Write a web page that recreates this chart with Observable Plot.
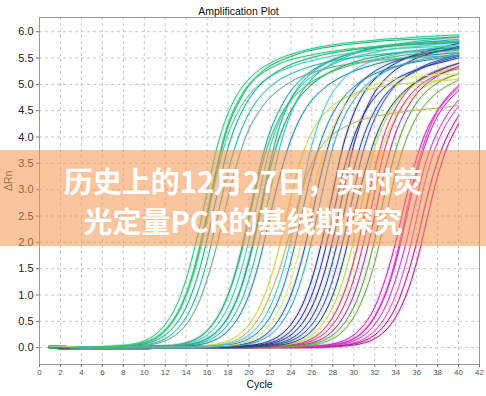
<!DOCTYPE html>
<html><head><meta charset="utf-8">
<script src="https://cdn.jsdelivr.net/npm/d3@7"></script>
<script src="https://cdn.jsdelivr.net/npm/@observablehq/plot@0.6"></script>
<style>
html,body{margin:0;padding:0;background:#fff;}
#wrap{position:relative;width:486px;height:396px;overflow:hidden;background:#fff;}
#banner{position:absolute;left:0;top:150px;width:486px;height:96px;background:rgba(244,150,80,0.55);}
#banner div{position:absolute;left:0;width:486px;text-align:center;color:#fff;font-family:"Noto Sans CJK SC","Noto Sans CJK JP",sans-serif;font-weight:700;font-size:29px;line-height:40px;white-space:nowrap;}
</style></head>
<body>
<div id="wrap"><div id="chart"></div>
<div id="banner"><div style="top:10px">历史上的12月27日，实时荧</div><div style="top:50px">光定量PCR的基线期探究</div></div>
</div>
<script>
const cycles = [1,2,3,4,5,6,7,8,9,10,11,12,13,14,15,16,17,18,19,20,21,22,23,24,25,26,27,28,29,30,31,32,33,34,35,36,37,38,39,40];
const xTicks = [0,2,4,6,8,10,12,14,16,18,20,22,24,26,28,30,32,34,36,38,40,42];
const yTicks = [0,0.5,1,1.5,2,2.5,3,3.5,4,4.5,5,5.5,6];

const groupA = [
 [0.01,0.01,0,0,0, 0.015,0.025,0.04,0.07,0.13, 0.24,0.44,0.77,1.3,2.05, 2.95,3.85,4.45,4.85,5.1, 5.28,5.4,5.5,5.57,5.63, 5.68,5.72,5.75,5.78,5.8, 5.82,5.84,5.86,5.87,5.88, 5.9,5.91,5.92,5.93,5.94],
 [0.01,0.01,0,0,0, 0,0.02,0.03,0.05,0.09, 0.17,0.32,0.58,1.0,1.65, 2.5,3.45,4.2,4.65,4.98, 5.2,5.35,5.45,5.53,5.6, 5.65,5.69,5.72,5.75,5.77, 5.79,5.81,5.83,5.84,5.85, 5.86,5.87,5.88,5.89,5.9],
 [0.01,0.01,0,0,0, 0,0.02,0.03,0.05,0.09, 0.17,0.32,0.58,1.0,1.6, 2.45,3.35,4.05,4.5,4.8, 5.0,5.15,5.25,5.33,5.4, 5.45,5.5,5.54,5.57,5.6, 5.62,5.64,5.66,5.68,5.69, 5.7,5.71,5.72,5.73,5.74],
 [0.01,0.01,0,0,0, 0,0.015,0.025,0.04,0.07, 0.13,0.24,0.44,0.77,1.3, 2.05,2.95,3.8,4.35,4.72, 4.98,5.15,5.28,5.38,5.45, 5.51,5.56,5.6,5.63,5.66, 5.68,5.7,5.72,5.74,5.75, 5.76,5.77,5.78,5.79,5.8],
 [0.01,0.01,0,0,0, 0,0,0.02,0.03,0.05, 0.09,0.17,0.32,0.58,1.0, 1.65,2.5,3.35,4.0,4.45, 4.75,4.95,5.1,5.2,5.28, 5.35,5.4,5.45,5.48,5.51, 5.54,5.56,5.58,5.6,5.61, 5.62,5.63,5.64,5.65,5.66],
 [0.01,0.01,0,0,0, 0,0,0.015,0.025,0.04, 0.07,0.13,0.24,0.44,0.77, 1.3,2.0,2.85,3.6,4.15, 4.5,4.75,4.92,5.05,5.15, 5.22,5.28,5.33,5.37,5.4, 5.43,5.45,5.47,5.49,5.5, 5.51,5.52,5.53,5.54,5.55],
 [0.01,0.01,0,0,0, 0.01,0.02,0.03,0.05,0.1, 0.18,0.34,0.6,1.02,1.68, 2.55,3.5,4.25,4.7,5.0, 5.18,5.3,5.4,5.47,5.52, 5.56,5.6,5.63,5.66,5.68, 5.7,5.72,5.74,5.75,5.76, 5.77,5.78,5.79,5.8,5.82]
];
const colorsA = ["#2fc58c","#22b07a","#47d0a0","#1fa98f","#2bb8a8","#6aa888","#33c46c"];

const groupB = [
 [0.01,0.01,0,0,0, 0,0,0,0.01,0.01, 0.02,0.03,0.05,0.09,0.17, 0.32,0.58,1.0,1.65,2.5, 3.4,4.1,4.55,4.88,5.1, 5.26,5.38,5.47,5.54,5.6, 5.65,5.69,5.72,5.75,5.77, 5.79,5.81,5.82,5.84,5.85],
 [0.01,0.01,0,0,0, 0,0,0,0,0.01, 0.015,0.025,0.04,0.07,0.13, 0.24,0.44,0.77,1.3,2.05, 2.95,3.8,4.35,4.72,4.98, 5.15,5.28,5.38,5.46,5.52, 5.57,5.61,5.65,5.68,5.7, 5.72,5.74,5.76,5.78,5.8],
 [0.01,0.01,0,0,0, 0,0,0,0,0.01, 0.01,0.02,0.03,0.05,0.09, 0.17,0.32,0.58,1.0,1.65, 2.5,3.38,4.05,4.5,4.8, 5.0,5.15,5.26,5.35,5.42, 5.48,5.52,5.56,5.59,5.62, 5.64,5.66,5.68,5.69,5.7],
 [0.01,0.01,0,0,0, 0,0,0,0,0.01, 0.01,0.015,0.025,0.04,0.07, 0.13,0.24,0.44,0.77,1.3, 2.05,2.95,3.85,4.45,4.85, 5.1,5.28,5.4,5.5,5.58, 5.64,5.69,5.73,5.76,5.79, 5.82,5.84,5.86,5.88,5.9],
 [0.01,0.01,0,0,0, 0,0,0,0,0, 0.01,0.01,0.02,0.03,0.05, 0.09,0.17,0.32,0.58,1.0, 1.65,2.5,3.3,3.95,4.4, 4.7,4.9,5.05,5.16,5.25, 5.32,5.38,5.43,5.47,5.5, 5.53,5.55,5.57,5.59,5.6],
 [0.01,0.01,0,0,0, 0,0,0,0.01,0.01, 0.02,0.03,0.05,0.09,0.17, 0.32,0.58,1.0,1.6,2.45, 3.3,3.95,4.4,4.7,4.9, 5.05,5.16,5.25,5.32,5.38, 5.43,5.47,5.5,5.53,5.56, 5.58,5.6,5.62,5.63,5.65],
 [0.01,0.01,0,0,0, 0,0,0,0,0.01, 0.01,0.02,0.03,0.05,0.09, 0.17,0.32,0.58,1.0,1.68, 2.55,3.5,4.25,4.72,5.02, 5.22,5.36,5.46,5.54,5.6, 5.65,5.69,5.72,5.74,5.76, 5.77,5.78,5.8,5.81,5.82]
];
const colorsB = ["#1aa0b8","#40c4cc","#1b9a86","#2ec3a2","#2986a6","#4aba5e","#1fb38a"];

const groupC = [
 [0.02,0.02,0.01,0,0, 0,0,0,0,0, 0.01,0.01,0.01,0.015,0.025, 0.04,0.07,0.13,0.24,0.44, 0.77,1.28,2.0,2.85,3.6, 4.1,4.4,4.6,4.73,4.82, 4.88,4.93,4.97,5.0,5.02, 5.04,5.06,5.07,5.08,5.1],
 [0.02,0.02,0.01,0,0, 0,0,0,0,0, 0.01,0.01,0.01,0.01,0.02, 0.03,0.05,0.09,0.17,0.32, 0.58,1.0,1.55,2.25,2.95, 3.5,3.85,4.05,4.18,4.27, 4.34,4.39,4.43,4.46,4.49, 4.51,4.53,4.55,4.57,4.6],
 [0.01,0.01,0,0,0, 0,0,0,0,0, 0.01,0.01,0.01,0.01,0.015, 0.025,0.04,0.07,0.13,0.24, 0.44,0.77,1.3,2.05,2.95, 3.85,4.45,4.85,5.1,5.27, 5.38,5.46,5.52,5.57,5.61, 5.64,5.67,5.7,5.72,5.75],
 [0.01,0.01,0,0,0, 0,0,0,0,0, 0.01,0.01,0.01,0.01,0.01, 0.02,0.03,0.05,0.09,0.17, 0.32,0.58,1.0,1.65,2.5, 3.35,4.0,4.45,4.75,4.95, 5.1,5.2,5.28,5.34,5.39, 5.43,5.46,5.49,5.52,5.55],
 [0.01,0.01,0,0,0, 0,0,0,0,0, 0.01,0.01,0.01,0.01,0.01, 0.01,0.02,0.03,0.05,0.09, 0.17,0.32,0.58,1.0,1.65, 2.5,3.4,4.1,4.55,4.88, 5.1,5.25,5.36,5.44,5.5, 5.55,5.59,5.63,5.66,5.69],
 [0.02,0.02,0.01,0,0, 0,0,0,0,0, 0.01,0.01,0.01,0.01,0.01, 0.015,0.025,0.04,0.07,0.13, 0.24,0.44,0.77,1.28,2.0, 2.85,3.65,4.2,4.55,4.78, 4.92,5.0,5.06,5.1,5.13, 5.15,5.17,5.18,5.19,5.2],
 [0.01,0.01,0,0,0, 0,0,0,0,0, 0.01,0.01,0.01,0.01,0.01, 0.01,0.015,0.025,0.04,0.07, 0.13,0.24,0.44,0.77,1.3, 2.05,2.95,3.8,4.35,4.7, 4.95,5.12,5.24,5.33,5.4, 5.45,5.49,5.52,5.55,5.6]
];
const colorsC = ["#d2d43c","#b8b860","#48c4dc","#2a8ab0","#1e5a9a","#e4e47a","#36aabf"];

const groupD = [
 [0.01,0,0,0,0, 0,0,0,0,0, 0.01,0.01,0.01,0.01,0.01, 0.01,0.01,0.015,0.025,0.04, 0.07,0.13,0.24,0.44,0.77, 1.3,2.05,2.95,3.85,4.45, 4.85,5.1,5.28,5.4,5.5, 5.57,5.63,5.68,5.73,5.78],
 [0.01,0,0,0,0, 0,0,0,0,0, 0.01,0.01,0.01,0.01,0.01, 0.01,0.01,0.01,0.02,0.03, 0.05,0.09,0.17,0.32,0.58, 1.0,1.65,2.5,3.35,4.0, 4.45,4.75,4.95,5.1,5.2, 5.28,5.35,5.4,5.45,5.5],
 [0.01,0,0,0,0, 0,0,0,0,0, 0.01,0.01,0.01,0.01,0.01, 0.01,0.01,0.01,0.015,0.025, 0.04,0.07,0.13,0.24,0.44, 0.77,1.3,2.05,2.95,3.85, 4.45,4.85,5.1,5.28,5.4, 5.5,5.57,5.62,5.67,5.72],
 [0.01,0,0,0,0, 0,0,0,0,0, 0.01,0.01,0.01,0.01,0.01, 0.01,0.01,0.01,0.01,0.02, 0.03,0.05,0.09,0.17,0.32, 0.58,1.0,1.65,2.5,3.38, 4.05,4.5,4.8,5.0,5.15, 5.26,5.35,5.42,5.48,5.53],
 [0.01,0,0,0,0, 0,0,0,0,0, 0.01,0.01,0.01,0.01,0.01, 0.01,0.01,0.01,0.01,0.015, 0.025,0.04,0.07,0.13,0.24, 0.44,0.77,1.3,2.05,2.95, 3.8,4.35,4.72,4.98,5.15, 5.28,5.38,5.45,5.51,5.56],
 [0.01,0,0,0,0, 0,0,0,0,0, 0.01,0.01,0.01,0.01,0.01, 0.01,0.01,0.01,0.01,0.01, 0.02,0.03,0.05,0.09,0.17, 0.32,0.58,1.0,1.65,2.5, 3.3,3.95,4.4,4.7,4.9, 5.05,5.16,5.25,5.33,5.4]
];
const colorsD = ["#1c2c8c","#2a3a9a","#303088","#1f4f8f","#4050b0","#205070"];

const groupE = [
 [0.01,0,0,0,0, 0,0,0,0,0, 0.01,0.01,0.01,0.01,0.01, 0.01,0.01,0.01,0.01,0.01, 0.015,0.025,0.04,0.07,0.13, 0.24,0.44,0.77,1.3,2.05, 2.95,3.8,4.3,4.65,4.88, 5.03,5.14,5.22,5.28,5.33],
 [0.01,0,0,0,0, 0,0,0,0,0, 0.01,0.01,0.01,0.01,0.01, 0.01,0.01,0.01,0.01,0.01, 0.01,0.02,0.03,0.05,0.09, 0.17,0.32,0.58,1.0,1.62, 2.45,3.3,3.95,4.38,4.66, 4.85,4.98,5.07,5.14,5.2],
 [0.01,0,0,0,0, 0,0,0,0,0, 0.01,0.01,0.01,0.01,0.01, 0.01,0.01,0.01,0.01,0.01, 0.01,0.015,0.025,0.04,0.07, 0.13,0.24,0.44,0.77,1.3, 2.05,2.95,3.8,4.35,4.7, 4.93,5.08,5.18,5.25,5.3],
 [0.01,0,0,0,0, 0,0,0,0,0, 0.01,0.01,0.01,0.01,0.01, 0.01,0.01,0.01,0.01,0.01, 0.01,0.01,0.02,0.03,0.05, 0.09,0.17,0.32,0.58,1.0, 1.65,2.5,3.4,4.08,4.52, 4.82,5.02,5.16,5.26,5.34],
 [0.01,0,0,0,0, 0,0,0,0,0, 0.01,0.01,0.01,0.01,0.01, 0.01,0.01,0.01,0.01,0.01, 0.01,0.01,0.015,0.025,0.04, 0.07,0.13,0.24,0.44,0.77, 1.3,2.05,2.95,3.75,4.3, 4.65,4.88,5.03,5.13,5.2],
 [0.01,0,0,0,0, 0,0,0,0,0, 0.01,0.01,0.01,0.01,0.01, 0.01,0.01,0.01,0.01,0.01, 0.01,0.01,0.01,0.02,0.03, 0.05,0.09,0.17,0.32,0.58, 1.0,1.62,2.45,3.3,3.95, 4.38,4.66,4.85,4.98,5.08],
 [0.01,0,0,0,0, 0,0,0,0,0, 0.01,0.01,0.01,0.01,0.01, 0.01,0.01,0.01,0.01,0.01, 0.01,0.02,0.03,0.05,0.09, 0.17,0.32,0.58,1.0,1.65, 2.5,3.4,4.1,4.55,4.85, 5.05,5.18,5.27,5.34,5.4]
];
const colorsE = ["#b8dc3c","#d0e050","#c83a7a","#9a3a9a","#5ca040","#78a848","#d04090"];

const groupF = [
 [0.01,0,0,0,0, 0,0,0,0,0, 0.01,0.01,0.01,0.01,0.01, 0.01,0.01,0.01,0.01,0.01, 0.01,0.01,0.01,0.01,0.015, 0.025,0.04,0.07,0.13,0.24, 0.44,0.77,1.3,2.0,2.85, 3.6,4.15,4.5,4.75,4.95],
 [0.01,0,0,0,0, 0,0,0,0,0, 0.01,0.01,0.01,0.01,0.01, 0.01,0.01,0.01,0.01,0.01, 0.01,0.01,0.01,0.01,0.01, 0.02,0.03,0.05,0.09,0.17, 0.32,0.58,1.0,1.62,2.45, 3.3,3.95,4.4,4.68,4.88],
 [0.01,0,0,0,0, 0,0,0,0,0, 0.01,0.01,0.01,0.01,0.01, 0.01,0.01,0.01,0.01,0.01, 0.01,0.01,0.01,0.01,0.01, 0.015,0.025,0.04,0.07,0.13, 0.24,0.44,0.77,1.3,2.0, 2.85,3.6,4.1,4.45,4.7],
 [0.01,0,0,0,0, 0,0,0,0,0, 0.01,0.01,0.01,0.01,0.01, 0.01,0.01,0.01,0.01,0.01, 0.01,0.01,0.01,0.01,0.01, 0.01,0.02,0.03,0.05,0.09, 0.17,0.32,0.58,1.0,1.62, 2.45,3.3,3.9,4.3,4.58],
 [0.01,0,0,0,0, 0,0,0,0,0, 0.01,0.01,0.01,0.01,0.01, 0.01,0.01,0.01,0.01,0.01, 0.01,0.01,0.01,0.01,0.01, 0.01,0.015,0.025,0.04,0.07, 0.13,0.24,0.44,0.77,1.3, 2.0,2.85,3.55,4.05,4.4],
 [0.01,0,0,0,0, 0,0,0,0,0, 0.01,0.01,0.01,0.01,0.01, 0.01,0.01,0.01,0.01,0.01, 0.01,0.01,0.01,0.01,0.01, 0.01,0.01,0.02,0.03,0.05, 0.09,0.17,0.32,0.58,1.0, 1.62,2.45,3.25,3.85,4.25],
 [0.01,0,0,0,0, 0,0,0,0,0, 0.01,0.01,0.01,0.01,0.01, 0.01,0.01,0.01,0.01,0.01, 0.01,0.01,0.01,0.01,0.01, 0.02,0.03,0.05,0.09,0.17, 0.33,0.6,1.02,1.68,2.55, 3.4,4.05,4.5,4.78,4.98]
];
const colorsF = ["#d020c0","#b030b0","#c040d0","#e050c0","#a02090","#c01890","#d838c8"];

const groups = [
  ["F", groupF, colorsF], ["E", groupE, colorsE], ["D", groupD, colorsD],
  ["B", groupB, colorsB], ["A", groupA, colorsA], ["C", groupC, colorsC]
];
const rows = [];
for (const [name, curves, colors] of groups) {
  curves.forEach((vals, i) => {
    vals.forEach((v, j) => rows.push({cycle: cycles[j], value: v, id: name + i, color: colors[i]}));
  });
}

const chart = Plot.plot({
  width: 486, height: 396,
  marginLeft: 39, marginRight: 7, marginTop: 17, marginBottom: 32,
  style: {fontFamily: "'Liberation Sans', Arial, sans-serif", background: "#fff", color: "#444"},
  x: {domain: [0, 42]},
  y: {domain: [-0.32, 6.27]},
  color: {type: "identity"},
  marks: [
    Plot.gridX(xTicks, {stroke: "#c8c8c8", strokeOpacity: 1, strokeDasharray: "3,3"}),
    Plot.gridY(yTicks, {stroke: "#c8c8c8", strokeOpacity: 1, strokeDasharray: "3,3"}),
    Plot.lineY(rows, {x: "cycle", y: "value", z: "id", stroke: "color", strokeWidth: 3.5, strokeOpacity: 0.13, curve: "catmull-rom"}),
    Plot.lineY(rows, {x: "cycle", y: "value", z: "id", stroke: "color", strokeWidth: 1, curve: "catmull-rom"}),
    Plot.frame({stroke: "#999"}),
    Plot.axisX(xTicks, {tickSize: 3, tickPadding: 2, fontSize: 8, label: null, stroke: "#777", fill: "#555"}),
    Plot.axisY(yTicks, {tickSize: 3, tickPadding: 3, fontSize: 11, label: null, tickFormat: d => d.toFixed(1), stroke: "#777", fill: "#222"}),
    Plot.text(["Amplification Plot"], {frameAnchor: "top", dy: -10, dx: -21, fontSize: 10.5, fill: "#111"}),
    Plot.text(["Cycle"], {frameAnchor: "bottom", dy: 23, fontSize: 10.5, fill: "#111"}),
    Plot.text(["ΔRn"], {frameAnchor: "left", dx: -31, rotate: -90, fontSize: 10.5, fill: "#444"})
  ]
});
document.getElementById("chart").appendChild(chart);
</script>
</body></html>
